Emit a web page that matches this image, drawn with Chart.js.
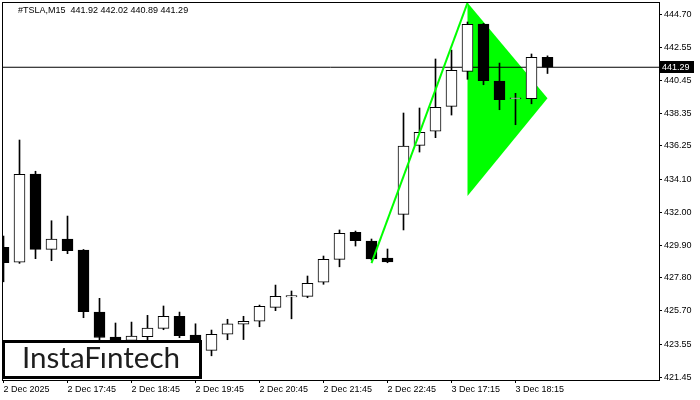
<!DOCTYPE html>
<html>
<head>
<meta charset="utf-8">
<script src="https://cdn.jsdelivr.net/npm/chart.js@4.4.1/dist/chart.umd.min.js"></script>
<style>
  html, body { margin: 0; padding: 0; background: #fff; }
</style>
</head>
<body>
<canvas id="chart" width="700" height="400"></canvas>
<script>
// M15 candles
const opens  = [429.76, 428.80, 434.45, 429.63, 430.29, 429.58, 425.61, 424.01, 423.80, 424.03,
                424.57, 425.34, 424.14, 423.16, 424.20, 424.83, 425.02, 425.91, 426.58, 426.62,
                427.52, 428.99, 430.72, 430.16, 429.07, 431.87, 436.29, 437.19, 438.79, 441.03,
                444.06, 440.41, 439.28, 439.28, 441.92];
const highs  = [430.48, 436.63, 434.63, 431.46, 431.76, 429.62, 426.49, 424.91, 424.97, 425.40,
                426.00, 425.61, 424.86, 424.46, 425.15, 425.34, 426.06, 427.34, 426.96, 427.92,
                429.20, 430.87, 430.80, 430.29, 429.65, 438.36, 438.68, 441.82, 442.39, 444.19,
                444.10, 441.56, 439.62, 442.14, 442.02];
const lows   = [427.55, 428.73, 429.03, 428.90, 429.35, 425.25, 423.70, 423.40, 423.50, 423.82,
                424.48, 423.97, 423.30, 422.81, 423.84, 423.85, 424.67, 425.70, 425.18, 426.53,
                427.39, 428.51, 429.84, 428.94, 428.77, 430.87, 435.86, 436.78, 438.23, 440.52,
                440.17, 438.57, 437.61, 438.95, 440.89];
const closes = [428.77, 434.43, 429.63, 430.29, 429.54, 425.63, 423.98, 423.76, 424.08, 424.59,
                425.34, 424.10, 423.69, 424.19, 424.86, 425.02, 425.98, 426.62, 426.66, 427.45,
                428.99, 430.65, 430.18, 429.01, 428.83, 436.25, 437.12, 438.72, 441.09, 444.04,
                440.43, 439.21, 439.34, 441.93, 441.29];

const xTickIndex  = [0, 4, 8, 12, 16, 20, 24, 28, 32];
const xTickLabels = ['2 Dec 2025', '2 Dec 17:45', '2 Dec 18:45', '2 Dec 19:45', '2 Dec 20:45',
                     '2 Dec 21:45', '2 Dec 22:45', '3 Dec 17:15', '3 Dec 18:15'];
const yTicks = [421.45, 423.55, 425.70, 427.80, 429.90, 432.00, 434.10, 436.25, 438.35, 440.45, 442.55, 444.70];

const lastPrice = 441.29;
const header = '#TSLA,M15  441.92 442.02 440.89 441.29';

// pennant: pole line and flag triangle (candle index, price)
const poleX = [23, 29];
const poleY = [428.75, 445.42];
const flagX = [29, 34, 29, 29];
const flagY = [445.42, 439.30, 433.04, 445.42];

const FONT = 'Liberation Sans';
const idx = opens.map((_, i) => i);

const noPad = s => { s.paddingTop = 0; s.paddingBottom = 0; s.paddingLeft = 0; s.paddingRight = 0; };

const overlay = {
  id: 'overlay',
  afterDatasetsDraw(chart) {
    const { ctx, chartArea: a } = chart;
    ctx.save();
    ctx.strokeStyle = '#000';
    ctx.lineWidth = 1;
    ctx.strokeRect(a.left + 0.5, a.top + 0.5, a.right - a.left, a.bottom - a.top);
    ctx.restore();
  },
  afterDraw(chart) {
    const { ctx, chartArea: a, scales: { y } } = chart;
    ctx.save();
    // header
    ctx.fillStyle = '#000';
    ctx.font = '9px "' + FONT + '"';
    ctx.textBaseline = 'middle';
    ctx.fillText(header, 18, 11);

    // last price tag
    const py = Math.round(y.getPixelForValue(lastPrice));
    ctx.fillRect(a.right + 1, py - 6, 34, 12);
    ctx.fillStyle = '#fff';
    ctx.fillText(lastPrice.toFixed(2), a.right + 3, py + 0.5);

    // logo box
    ctx.fillStyle = '#fff';
    ctx.fillRect(2, 340, 200, 39);
    ctx.strokeStyle = '#000';
    ctx.lineWidth = 3;
    ctx.strokeRect(3.5, 341.5, 197, 36);
    ctx.fillStyle = '#1e1e1e';
    ctx.font = '28px Lato';
    const w = ctx.measureText('InstaFıntech').width;
    const size = 28 * 158 / w;
    ctx.font = size.toFixed(1) + 'px Lato';
    ctx.textAlign = 'center';
    ctx.textBaseline = 'alphabetic';
    ctx.fillText('InstaFıntech', 101, 368);
    ctx.restore();
  }
};

new Chart(document.getElementById('chart'), {
  type: 'bar',
  data: {
    datasets: [
      {
        type: 'line',
        data: poleX.map((x, i) => ({ x, y: poleY[i] })),
        borderColor: '#00ff00',
        borderWidth: 2,
        pointRadius: 0,
        order: 1
      },
      {
        label: 'bodies',
        data: idx.map(i => ({ x: i, y: [opens[i], closes[i]] })),
        backgroundColor: idx.map(i => closes[i] >= opens[i] ? '#fff' : '#000'),
        borderColor: '#000',
        borderWidth: 1,
        borderSkipped: false,
        barThickness: 11,
        grouped: false,
        order: 2
      },
      {
        label: 'wicks',
        data: idx.map(i => ({ x: i, y: [lows[i], highs[i]] })),
        backgroundColor: '#000',
        borderWidth: 0,
        barThickness: 1,
        grouped: false,
        order: 3
      },
      {
        type: 'line',
        data: [{ x: -1, y: lastPrice }, { x: 42, y: lastPrice }],
        borderColor: '#000',
        borderWidth: 1,
        pointRadius: 0,
        order: 4
      },
      {
        type: 'line',
        data: flagX.map((x, i) => ({ x, y: flagY[i] })),
        borderColor: 'rgba(0,0,0,0)',
        borderWidth: 0,
        backgroundColor: '#00ff00',
        fill: 'shape',
        pointRadius: 0,
        order: 5
      }
    ]
  },
  options: {
    responsive: false,
    animation: false,
    events: [],
    layout: { padding: { left: 2, top: 2, right: 0, bottom: 0 } },
    plugins: {
      legend: { display: false },
      tooltip: { enabled: false }
    },
    scales: {
      x: {
        type: 'linear',
        offset: false,
        min: -0.09375,
        max: 40.96875,
        grid: { display: true, offset: false, drawOnChartArea: false, drawTicks: true, tickLength: 3, color: '#000' },
        border: { display: false },
        afterBuildTicks: s => { s.ticks = xTickIndex.map(v => ({ value: v })); },
        afterFit: s => { s.height = 20; noPad(s); },
        ticks: {
          autoSkip: false,
          maxRotation: 0,
          align: 'start',
          padding: 1,
          color: '#000',
          font: { family: FONT, size: 9 },
          callback: v => xTickLabels[xTickIndex.indexOf(v)]
        }
      },
      y: {
        type: 'linear',
        position: 'right',
        beginAtZero: false,
        min: 421.26,
        max: 445.47,
        grid: { display: true, drawOnChartArea: false, drawTicks: true, tickLength: 3, color: '#000' },
        border: { display: false },
        afterBuildTicks: s => { s.ticks = yTicks.map(v => ({ value: v })); },
        afterFit: s => { s.width = 41; noPad(s); },
        ticks: {
          autoSkip: false,
          padding: 2,
          color: '#000',
          font: { family: FONT, size: 9 },
          callback: v => v.toFixed(2)
        }
      }
    }
  },
  plugins: [overlay]
});
</script>
</body>
</html>
